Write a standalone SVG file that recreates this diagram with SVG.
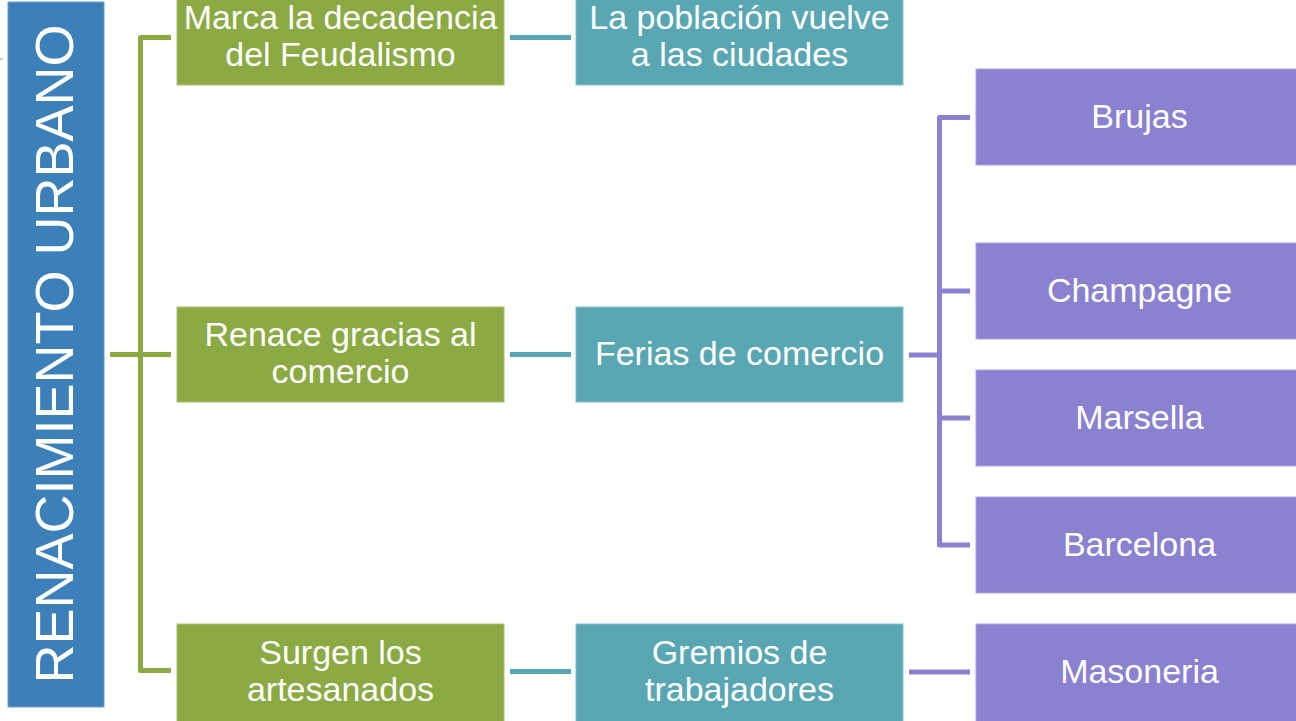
<svg xmlns="http://www.w3.org/2000/svg" width="1296" height="721" viewBox="0 0 1296 721">
<style>
.t{font-family:"Liberation Sans",Arial,sans-serif;font-size:34px;fill:#fff;text-anchor:middle}
.g{fill:#8BAA43;stroke:#A6C06E;stroke-width:1}
.c{fill:#5AA7B4;stroke:#86C0CA;stroke-width:1}
.p{fill:#8A81D1;stroke:#ABA5DF;stroke-width:1}
.lg{fill:none;stroke:#8BAA43;stroke-width:5;stroke-linejoin:round}
.lc{fill:none;stroke:#5AA7B4;stroke-width:5}
.lp{fill:none;stroke:#8A81D1;stroke-width:5;stroke-linejoin:round}
</style>
<rect width="1296" height="721" fill="#fff"/>
<line x1="0" y1="59" x2="3" y2="59" stroke="#bbb" stroke-width="1.5"/>
<g id="connectors">
<path class="lg" d="M171,37.5 H140.5 V670.5 H171"/>
<path class="lg" d="M110,354.5 H171"/>
<path class="lc" d="M510,37.5 H571"/>
<path class="lc" d="M510,354.5 H571"/>
<path class="lc" d="M510,671.5 H571"/>
<path class="lp" d="M909,355 H940"/>
<path class="lp" d="M970,117.5 H939.5 V545 H970"/>
<path class="lp" d="M939.5,291 H970"/>
<path class="lp" d="M939.5,418 H970"/>
<path class="lp" d="M909,672 H970"/>
</g>
<g id="title">
<rect x="8" y="2" width="96" height="705" fill="#3C80BA" stroke="#6FA0CC" stroke-width="1"/>
<text class="t" style="font-size:54px" transform="translate(73,354) rotate(-90)">RENACIMIENTO URBANO</text>
</g>
<g id="n1"><rect class="g" x="177" y="-10" width="327" height="95"/>
<text class="t" x="340.5" y="29">Marca la decadencia</text><text class="t" x="340.5" y="66">del Feudalismo</text></g>
<g id="n2"><rect class="g" x="177" y="307" width="327" height="95"/>
<text class="t" x="340.5" y="346">Renace gracias al</text><text class="t" x="340.5" y="383">comercio</text></g>
<g id="n3"><rect class="g" x="177" y="624" width="327" height="100"/>
<text class="t" x="340.5" y="664">Surgen los</text><text class="t" x="340.5" y="701">artesanados</text></g>
<g id="n4"><rect class="c" x="576" y="-10" width="327" height="95"/>
<text class="t" x="739.5" y="29">La población vuelve</text><text class="t" x="739.5" y="66">a las ciudades</text></g>
<g id="n5"><rect class="c" x="576" y="307" width="327" height="95"/>
<text class="t" x="739.5" y="365">Ferias de comercio</text></g>
<g id="n6"><rect class="c" x="576" y="624" width="327" height="100"/>
<text class="t" x="739.5" y="664">Gremios de</text><text class="t" x="739.5" y="701">trabajadores</text></g>
<g id="n7"><rect class="p" x="976" y="69" width="327" height="96"/>
<text class="t" x="1139.5" y="128">Brujas</text></g>
<g id="n8"><rect class="p" x="976" y="243" width="327" height="96"/>
<text class="t" x="1139.5" y="302">Champagne</text></g>
<g id="n9"><rect class="p" x="976" y="370" width="327" height="96"/>
<text class="t" x="1139.5" y="429">Marsella</text></g>
<g id="n10"><rect class="p" x="976" y="497" width="327" height="96"/>
<text class="t" x="1139.5" y="556">Barcelona</text></g>
<g id="n11"><rect class="p" x="976" y="624" width="327" height="100"/>
<text class="t" x="1139.5" y="683">Masoneria</text></g>
</svg>
